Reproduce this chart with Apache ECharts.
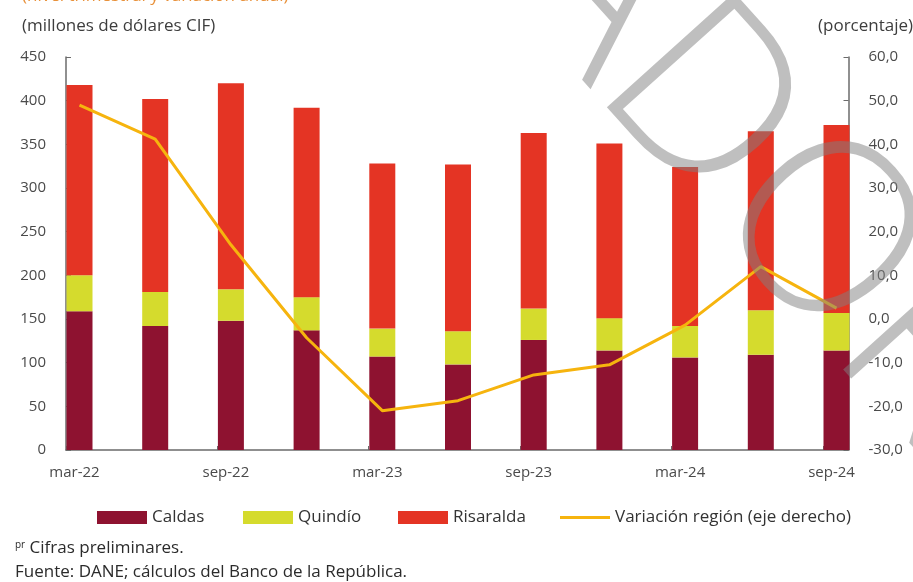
<!DOCTYPE html>
<html>
<head>
<meta charset="utf-8">
<script src="https://cdn.jsdelivr.net/npm/echarts@6/dist/echarts.min.js"></script>
<style>
  html, body { margin: 0; padding: 0; background: #fff; }
  #chart { width: 913px; height: 582px; }
</style>
</head>
<body>
<div id="chart"></div>
<script>
// trimestres
var categories = ["mar-22", "jun-22", "sep-22", "dic-22", "mar-23", "jun-23", "sep-23", "dic-23", "mar-24", "jun-24", "sep-24"];
// millones de dólares CIF
var caldas = [159, 142, 148, 137, 107, 98, 126, 114, 106, 109, 114];
var quindio = [41, 39, 36, 38, 32, 38, 36, 37, 36, 51, 43];
var risaralda = [218, 221, 236, 217, 189, 191, 201, 200, 182, 205, 215];
// variación anual (porcentaje)
var variacion = [49.0, 41.2, 17.0, -4.3, -21.0, -18.7, -12.8, -10.5, -1.4, 12.0, 2.5];
// ejes: [min, max, paso]
var leftAxisRange = [0, 450, 50];
var rightAxisRange = [-30, 60, 10];

var font = "'Open Sans', 'Liberation Sans', sans-serif";
var axisGray = "#6b6b6b";
var labelGray = "#4a4a4a";
var lineColor = "#f6b40e";

// una leyenda por elemento para fijar su posición
function legendItem(name, left, icon) {
  return {
    left: left,
    top: 509,
    padding: 0,
    itemWidth: 50,
    itemHeight: 13,
    textStyle: { fontSize: 17, color: "#333", fontFamily: font },
    data: [{ name: name, icon: icon }]
  };
}

var chart = echarts.init(document.getElementById("chart"));
chart.setOption({
  backgroundColor: "#fff",
  animation: false,
  textStyle: { fontFamily: font },
  color: ["#8e1230", "#d5db2d", "#e43424", lineColor],
  grid: [
    // barras y línea
    { left: 41.65, right: 38.65, top: 57, bottom: 132, outerBoundsMode: "none" },
    // solo la línea base del eje x
    { left: 66, right: 64.5, top: 57, bottom: 132, outerBoundsMode: "none" }
  ],
  legend: [
    legendItem("Caldas", 97, "rect"),
    legendItem("Quindío", 243, "rect"),
    legendItem("Risaralda", 398, "rect"),
    legendItem("Variación región (eje derecho)", 560, "path://M0,0 L100,0 L100,6 L0,6 Z")
  ],
  xAxis: [
    {
      type: "category",
      gridIndex: 0,
      data: categories,
      boundaryGap: true,
      axisLine: { show: false },
      axisTick: { show: false },
      axisLabel: {
        interval: 1,
        margin: 15,
        fontSize: 15,
        color: labelGray,
        padding: [0, 10, 0, 0]
      }
    },
    {
      type: "value",
      gridIndex: 1,
      min: 0,
      max: 10.34,
      interval: 2,
      axisLine: { show: true, lineStyle: { color: axisGray, width: 1.5 } },
      axisTick: { show: true, inside: true, length: 4, lineStyle: { color: axisGray } },
      axisLabel: { show: false },
      splitLine: { show: false }
    }
  ],
  yAxis: [
    {
      type: "value",
      gridIndex: 0,
      position: "left",
      offset: -24.35,
      min: leftAxisRange[0],
      max: leftAxisRange[1],
      interval: leftAxisRange[2],
      axisLine: { show: true, lineStyle: { color: axisGray, width: 1.5 } },
      axisTick: { show: true, inside: true, length: 5, lineStyle: { color: axisGray } },
      axisLabel: { margin: 20, fontSize: 15, color: labelGray },
      splitLine: { show: false }
    },
    {
      type: "value",
      gridIndex: 0,
      position: "right",
      offset: -25.85,
      min: rightAxisRange[0],
      max: rightAxisRange[1],
      interval: rightAxisRange[2],
      axisLine: { show: true, lineStyle: { color: axisGray, width: 1.5 } },
      axisTick: { show: true, inside: true, length: 5, lineStyle: { color: axisGray } },
      axisLabel: {
        margin: 20,
        fontSize: 15,
        color: labelGray,
        formatter: function (v) { return v.toFixed(1).replace(".", ","); }
      },
      splitLine: { show: false }
    },
    {
      type: "value",
      gridIndex: 1,
      show: false,
      min: 0,
      max: 1
    }
  ],
  series: [
    { name: "Caldas", type: "bar", stack: "total", barWidth: 26, data: caldas },
    { name: "Quindío", type: "bar", stack: "total", barWidth: 26, data: quindio },
    { name: "Risaralda", type: "bar", stack: "total", barWidth: 26, data: risaralda },
    {
      name: "Variación región (eje derecho)",
      type: "line",
      yAxisIndex: 1,
      data: variacion,
      symbol: "none",
      lineStyle: { width: 3, color: lineColor },
      itemStyle: { color: lineColor },
      z: 5
    }
  ],
  graphic: [
    {
      type: "text",
      left: 22,
      top: -12,
      style: { text: "(nivel trimestral y variación anual)", fill: "#e8913a", font: "17px " + font }
    },
    {
      type: "text",
      left: 22,
      top: 18,
      style: { text: "(millones de dólares CIF)", fill: "#3d3d3d", font: "17px " + font }
    },
    {
      type: "text",
      left: 818,
      top: 18,
      style: { text: "(porcentaje)", fill: "#3d3d3d", font: "17px " + font }
    },
    {
      type: "text",
      left: 15,
      top: 540,
      style: {
        text: "{sup|pr} Cifras preliminares.",
        fill: "#2b2b2b",
        font: "17px " + font,
        rich: {
          sup: { fontSize: 10, verticalAlign: "top", padding: [0, 0, 7, 0], fill: "#2b2b2b", fontFamily: font }
        }
      }
    },
    {
      type: "text",
      left: 15,
      top: 564,
      style: { text: "Fuente: DANE; cálculos del Banco de la República.", fill: "#2b2b2b", font: "17px " + font }
    },
    // marca de agua
    {
      type: "text",
      x: 552,
      y: -56,
      rotation: -48 * Math.PI / 180,
      z: 100,
      silent: true,
      style: {
        text: "BORRADOR",
        textAlign: "center",
        textVerticalAlign: "middle",
        fill: "rgba(128,128,128,0.5)",
        font: "300 240px " + font
      }
    }
  ]
});
</script>
</body>
</html>
